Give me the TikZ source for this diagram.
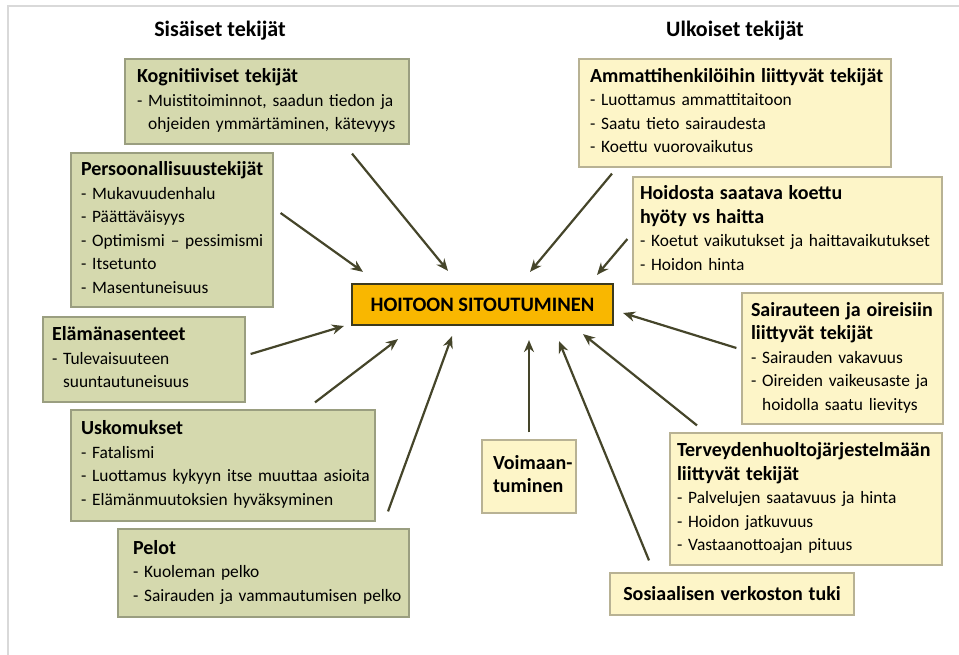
\documentclass[tikz,border=0pt]{standalone}
\usepackage{fontspec}
\setmainfont{Carlito}
\usetikzlibrary{arrows.meta}
\definecolor{gfill}{HTML}{D5D9AE}
\definecolor{gline}{HTML}{9A9E80}
\definecolor{yfill}{HTML}{FDF5C8}
\definecolor{yline}{HTML}{B8B294}
\definecolor{cfill}{HTML}{F9B700}
\definecolor{cline}{HTML}{3C3A1E}
\definecolor{arrcol}{HTML}{45452A}
\definecolor{framecol}{HTML}{D9D9D9}
\newcommand\bodyfnt{\fontsize{17.4}{23.5}\selectfont}
\newcommand\hdrfnt{\bfseries\fontsize{22}{26}\selectfont}
\newcommand\ctrfnt{\bfseries\fontsize{20.5}{24}\selectfont}
\newcommand\hd[1]{{\fontsize{20}{23.5}\selectfont\bfseries #1}}
\newcommand\bx[1]{\begin{tabular}{@{}l@{}}#1\end{tabular}}
\newcommand\ind{\hphantom{- }}
\tikzset{
  basebox/.style={line width=1.2pt, inner ysep=0pt, align=left, anchor=center,
    font=\bodyfnt},
  gbox/.style={basebox, draw=gline, fill=gfill},
  ybox/.style={basebox, draw=yline, fill=yfill},
  cbox/.style={draw=cline, fill=cfill, line width=2.2pt, minimum width=261pt,
    minimum height=41pt, inner sep=0pt, font=\ctrfnt},
  hdr/.style={font=\hdrfnt, inner sep=0pt},
  arr/.style={draw=arrcol, line width=2.2pt, -{Stealth[length=12pt,width=10pt]}},
  frameline/.style={draw=framecol, line width=1.3pt}
}
\begin{document}
\begin{tikzpicture}[x=1pt,y=-1pt]
\useasboundingbox (0,0) rectangle (959,655);
\draw[frameline] (959,6) -- (8,6) -- (8,655);

\node[hdr] (hsis) at (220,31) {Sisäiset tekijät};
\node[hdr] (hulk) at (735,31) {Ulkoiset tekijät};

\node[cbox] (c) at (482.5,304.5) {HOITOON SITOUTUMINEN};

% left boxes
\node[gbox, inner xsep=12pt, text width=260pt, minimum height=85pt] (kog) at (267,101.5)
 {\bx{\hd{Kognitiiviset tekijät}\\- Muistitoiminnot, saadun tiedon ja\\\ind ohjeiden ymmärtäminen, kätevyys}};
\node[gbox, inner xsep=10pt, text width=182pt, minimum height=154pt] (per) at (172,230)
 {\bx{\hd{Persoonallisuustekijät}\\- Mukavuudenhalu\\- Päättäväisyys\\- Optimismi – pessimismi\\- Itsetunto\\- Masentuneisuus}};
\node[gbox, inner xsep=9pt, text width=184pt, minimum height=85pt] (ela) at (144,359.5)
 {\bx{\hd{Elämänasenteet}\\- Tulevaisuuteen\\\ind suuntautuneisuus}};
\node[gbox, inner xsep=10pt, text width=284pt, minimum height=111pt] (usk) at (223,465.5)
 {\bx{\hd{Uskomukset}\\- Fatalismi\\- Luottamus kykyyn itse muuttaa asioita\\- Elämänmuutoksien hyväksyminen}};
\node[gbox, inner xsep=15pt, text width=261pt, minimum height=88pt] (pel) at (263.5,573)
 {\bx{\hd{Pelot}\\- Kuoleman pelko\\- Sairauden ja vammautumisen pelko}};

% right boxes
\node[ybox, inner xsep=11pt, text width=290pt, minimum height=108pt] (amm) at (735,113)
 {\bx{\hd{Ammattihenkilöihin liittyvät tekijät}\\- Luottamus ammattitaitoon\\- Saatu tieto sairaudesta\\- Koettu vuorovaikutus}};
\node[ybox, inner xsep=7pt, text width=295pt, minimum height=107pt] (hoi) at (787.5,230.5)
 {\bx{\hd{Hoidosta saatava koettu}\\\hd{hyöty vs haitta}\\- Koetut vaikutukset ja haittavaikutukset\\- Hoidon hinta}};
\node[ybox, inner xsep=9pt, text width=183pt, minimum height=131pt] (sai) at (842.5,358.5)
 {\bx{\hd{Sairauteen ja oireisiin}\\\hd{liittyvät tekijät}\\- Sairauden vakavuus\\- Oireiden vaikeusaste ja\\\ind hoidolla saatu lievitys}};
\node[ybox, inner xsep=7pt, text width=258pt, minimum height=132pt] (ter) at (806,499)
 {\bx{\hd{Terveydenhuoltojärjestelmään}\\\hd{liittyvät tekijät}\\- Palvelujen saatavuus ja hinta\\- Hoidon jatkuvuus\\- Vastaanottoajan pituus}};
\node[ybox, align=center, inner xsep=8pt, text width=228pt, minimum height=42pt] (sos) at (732,594)
 {\hd{Sosiaalisen verkoston tuki}};
\node[ybox, inner xsep=11pt, text width=72pt, minimum height=73pt] (voi) at (529,476.5)
 {\bx{\hd{Voimaan-}\\\hd{tuminen}}};

% arrows
\draw[arr] ([shift={(85,9)}]kog.south) -- ([shift={(-34.5,-12)}]c.north);
\draw[arr] ([shift={(7,-17)}]per.east) -- ([shift={(-119.5,-11)}]c.north);
\draw[arr] ([shift={(5,-5.5)}]ela.east) -- ([shift={(-7,21.5)}]c.west);
\draw[arr] ([shift={(92,-7)}]usk.north) -- ([shift={(-84.5,13)}]c.south);
\draw[arr] ([shift={(124.5,-17)}]pel.north) -- ([shift={(-30.5,10)}]c.south);
\draw[arr] ([shift={(-123,6)}]amm.south) -- ([shift={(47.5,-11)}]c.north);
\draw[arr] ([shift={(-5,8.5)}]hoi.west) -- ([shift={(114.5,-8)}]c.north);
\draw[arr] ([shift={(-5,-10.5)}]sai.west) -- ([shift={(9,8.5)}]c.east);
\draw[arr] ([shift={(0,-7)}]voi.north) -- ([shift={(46.5,14)}]c.south);
\draw[arr] ([shift={(-83,-12)}]sos.north) -- ([shift={(76.5,15)}]c.south);
\draw[arr] ([shift={(-109,-7)}]ter.north) -- ([shift={(100.5,8)}]c.south);
\end{tikzpicture}
\end{document}
